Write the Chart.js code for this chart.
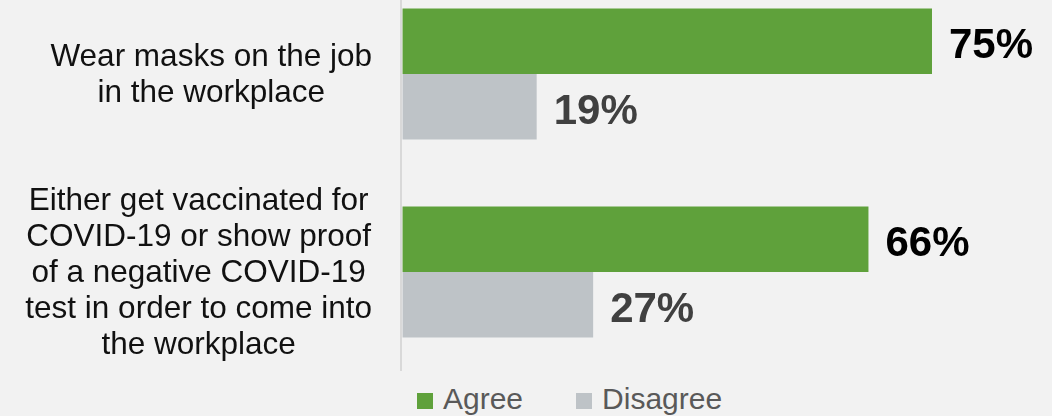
<!DOCTYPE html>
<html lang="en">

<head>
    <meta charset="UTF-8">
    <title>Workplace requirements</title>
    <script src="https://cdn.jsdelivr.net/npm/chart.js"></script>
    <style>
        html, body {
            margin: 0;
            padding: 0;
            width: 1052px;
            height: 416px;
            overflow: hidden;
            background: #f2f2f2;
            font-family: "Liberation Sans", Arial, sans-serif;
        }

        #grafico {
            position: absolute;
            left: 0;
            top: -25px;
        }

        #legenda {
            position: absolute;
            left: 417px;
            top: 384px;
            font-size: 30px;
            line-height: 30px;
            color: #595959;
            white-space: nowrap;
        }

        #legenda .caixa {
            display: inline-block;
            width: 16px;
            height: 16px;
            margin-right: 10px;
        }

        #legenda .item + .item {
            margin-left: 53px;
        }
    </style>
</head>

<body>
    <div id="grafico">
        <canvas id="myChartCanvas" width="1052" height="396"></canvas>
    </div>
    <div id="legenda"></div>
</body>

</html>

<script>
    // dados do gráfico
    const categorias = [
        ["Wear masks on the job", "in the workplace"],
        ["Either get vaccinated for", "COVID-19 or show proof", "of a negative COVID-19", "test in order to come into", "the workplace"]
    ];
    const agree = [75, 66];
    const disagree = [19, 27];
    const nomesSeries = ["Agree", "Disagree"];
    const cores = ["#5fa13b", "#bec3c7"];
    const coresRotulos = ["#000000", "#404040"];

    // rotulos das categorias, linhas centralizadas em cada bloco
    const rotulosCategorias = {
        id: 'rotulosCategorias',
        afterDraw(chart) {
            const ctx = chart.ctx;
            const y = chart.scales.y;
            ctx.save();
            ctx.font = '31.5px "Liberation Sans", Arial, sans-serif';
            ctx.fillStyle = '#111111';
            ctx.textAlign = 'center';
            ctx.textBaseline = 'alphabetic';
            categorias.forEach((linhas, i) => {
                const centro = y.getPixelForTick(i);
                let largura = 0;
                linhas.forEach(l => { largura = Math.max(largura, ctx.measureText(l).width); });
                const cx = 372 - largura / 2;
                linhas.forEach((l, j) => {
                    const ly = centro + (j - (linhas.length - 1) / 2) * 36 + 10;
                    ctx.fillText(l, cx, ly);
                });
            });
            ctx.restore();
        }
    };

    // valores ao lado das barras
    const rotulosValores = {
        id: 'rotulosValores',
        afterDatasetsDraw(chart) {
            const ctx = chart.ctx;
            ctx.save();
            ctx.font = 'bold 42px "Liberation Sans", Arial, sans-serif';
            ctx.textAlign = 'left';
            ctx.textBaseline = 'alphabetic';
            chart.data.datasets.forEach((ds, d) => {
                const meta = chart.getDatasetMeta(d);
                ctx.fillStyle = coresRotulos[d];
                meta.data.forEach((barra, i) => {
                    ctx.fillText(ds.data[i] + '%', barra.x + 17, barra.y + 17);
                });
            });
            ctx.restore();
        }
    };

    const dados = {
        labels: categorias,
        datasets: [{
            label: nomesSeries[0],
            data: agree,
            backgroundColor: cores[0]
        }, {
            label: nomesSeries[1],
            data: disagree,
            backgroundColor: cores[1]
        }]
    };

    const config = {
        type: 'bar',
        data: dados,
        options: {
            indexAxis: 'y',
            responsive: false,
            animation: false,
            layout: { padding: 0 },
            categoryPercentage: 0.662,
            barPercentage: 1,
            scales: {
                x: {
                    display: false,
                    min: -0.22,
                    max: 92
                },
                y: {
                    grid: { display: false },
                    ticks: { display: false },
                    border: { display: true, color: '#d9d9d9', width: 2 },
                    afterFit(scale) {
                        scale.width = 401;
                    }
                }
            },
            plugins: {
                legend: { display: false },
                tooltip: { enabled: false }
            }
        },
        plugins: [rotulosCategorias, rotulosValores]
    };

    let myChart = new Chart(document.getElementById('myChartCanvas'), config);

    // legenda em html a partir das series do grafico
    const legenda = document.getElementById('legenda');
    myChart.data.datasets.forEach(ds => {
        const item = document.createElement('span');
        item.className = 'item';
        const caixa = document.createElement('span');
        caixa.className = 'caixa';
        caixa.style.background = ds.backgroundColor;
        item.appendChild(caixa);
        item.appendChild(document.createTextNode(ds.label));
        legenda.appendChild(item);
    });
</script>
